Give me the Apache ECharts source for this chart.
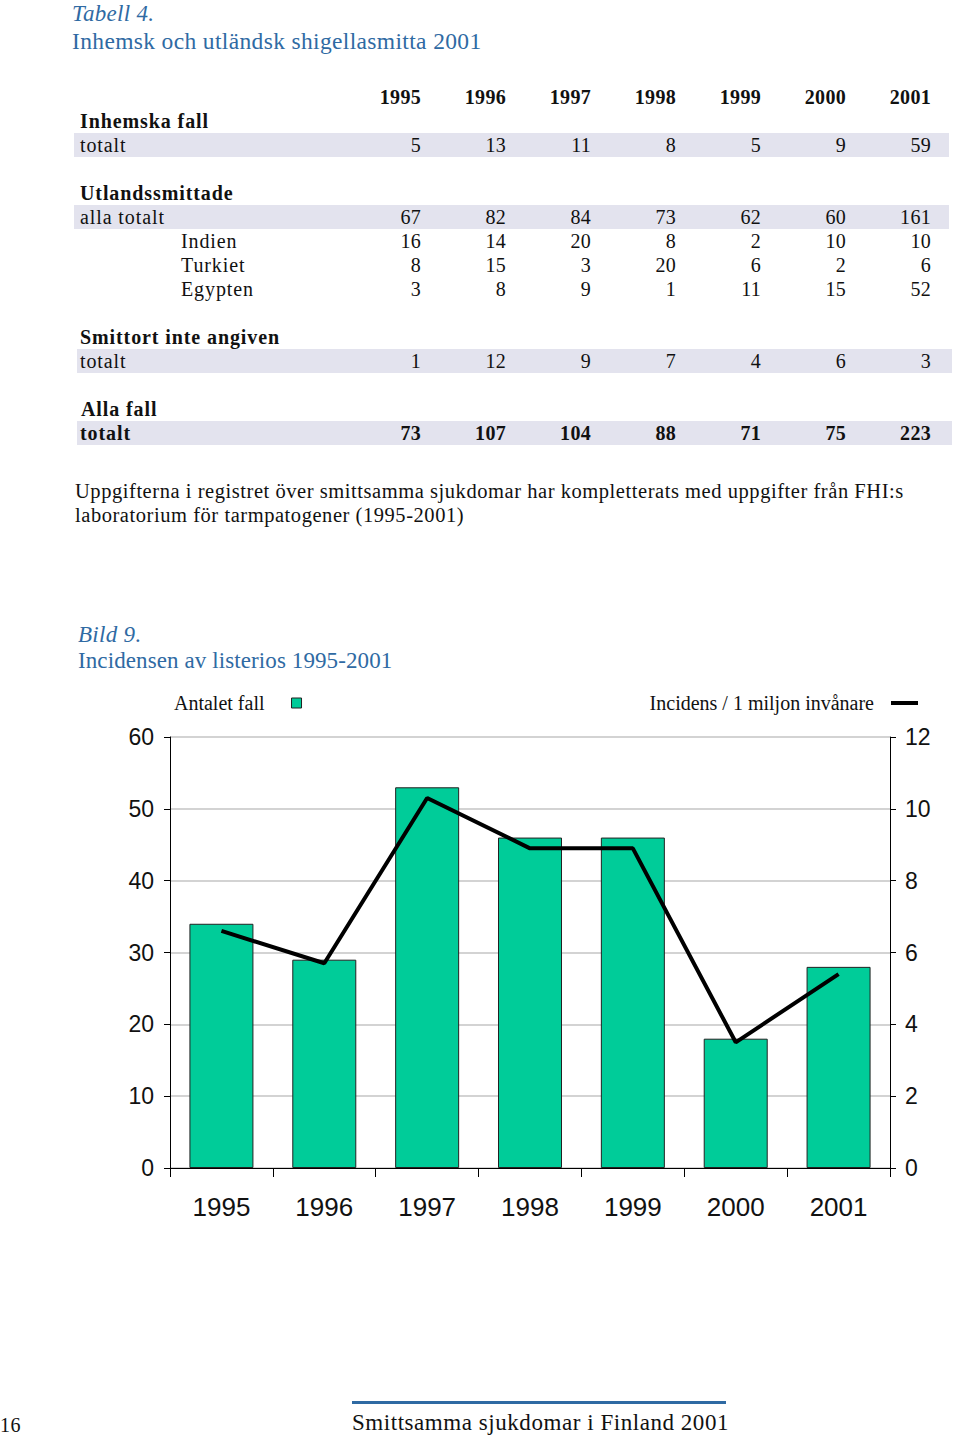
<!DOCTYPE html>
<html>
<head>
<meta charset="utf-8">
<script src="https://cdn.jsdelivr.net/npm/echarts@6/dist/echarts.min.js"></script>
<style>
  html, body { margin:0; padding:0; background:#fff; }
  #page { position:relative; width:960px; height:1440px; overflow:hidden; font-family:"Liberation Serif", "DejaVu Serif", serif; color:#111; }
  .t { position:absolute; white-space:nowrap; line-height:24px; font-size:20px; letter-spacing:0.45px; }
  .blue { color:#2f6aa3; }
  .bg { position:absolute; background:#e3e3ee; height:24px; }
  #chart { position:absolute; left:0; top:0; width:960px; height:1440px; }
</style>
</head>
<body>
<div id="page">
  <div id="chart"></div>
</div>
<script>
// ---------- Table data ----------
const tableYears = ['1995', '1996', '1997', '1998', '1999', '2000', '2001'];
const inhemskaTotalt = [5, 13, 11, 8, 5, 9, 59];
const utlandsAllaTotalt = [67, 82, 84, 73, 62, 60, 161];
const utlandsIndien = [16, 14, 20, 8, 2, 10, 10];
const utlandsTurkiet = [8, 15, 3, 20, 6, 2, 6];
const utlandsEgypten = [3, 8, 9, 1, 11, 15, 52];
const smittortTotalt = [1, 12, 9, 7, 4, 6, 3];
const allaFallTotalt = [73, 107, 104, 88, 71, 75, 223];

// ---------- Chart data ----------
const chartYears = ['1995', '1996', '1997', '1998', '1999', '2000', '2001'];
const antaletFall = [34, 29, 53, 46, 46, 18, 28];
const incidens = [6.6, 5.7, 10.3, 8.9, 8.9, 3.5, 5.4];

// ---------- Build table & texts (HTML) ----------
const page = document.getElementById('page');
function addText(txt, left, top, style) {
  const d = document.createElement('div');
  d.className = 't';
  d.textContent = txt;
  d.style.left = left + 'px';
  d.style.top = top + 'px';
  if (style) Object.assign(d.style, style);
  page.appendChild(d);
  return d;
}
function addBg(left, top, width) {
  const d = document.createElement('div');
  d.className = 'bg';
  d.style.left = left + 'px';
  d.style.top = top + 'px';
  d.style.width = width + 'px';
  page.appendChild(d);
}
const colRight = [421, 506, 591, 676, 761, 846, 931];
function addRow(values, centerY, bold) {
  values.forEach((v, i) => {
    addText(String(v), colRight[i] - 60, centerY - 12, {width: '60px', textAlign: 'right', letterSpacing: '0.3px', fontWeight: bold ? 'bold' : 'normal'});
  });
}

// titles
addText('Tabell 4.', 72, 1, {fontSize: '23px', fontStyle: 'italic', lineHeight: '26px', letterSpacing: '0.3px'}).classList.add('blue');
addText('Inhemsk och utländsk shigellasmitta 2001', 72, 28, {fontSize: '23.5px', lineHeight: '26px', letterSpacing: '0.35px'}).classList.add('blue');

// row backgrounds
addBg(74, 133, 875);
addBg(74, 205, 875);
addBg(77, 349, 875);
addBg(77, 421, 875);

// header
addRow(tableYears, 97, true);
addText('Inhemska fall', 80, 109, {fontWeight: 'bold', letterSpacing: '0.9px'});
addText('totalt', 80, 133, {letterSpacing: '0.9px'});
addRow(inhemskaTotalt, 145, false);
addText('Utlandssmittade', 80, 181, {fontWeight: 'bold', letterSpacing: '0.9px'});
addText('alla totalt', 80, 205, {letterSpacing: '0.9px'});
addRow(utlandsAllaTotalt, 217, false);
addText('Indien', 181, 229, {letterSpacing: '0.9px'});
addRow(utlandsIndien, 241, false);
addText('Turkiet', 181, 253, {letterSpacing: '0.9px'});
addRow(utlandsTurkiet, 265, false);
addText('Egypten', 181, 277, {letterSpacing: '0.9px'});
addRow(utlandsEgypten, 289, false);
addText('Smittort inte angiven', 80, 325, {fontWeight: 'bold', letterSpacing: '0.9px'});
addText('totalt', 80, 349, {letterSpacing: '0.9px'});
addRow(smittortTotalt, 361, false);
addText('Alla fall', 81, 397, {fontWeight: 'bold', letterSpacing: '0.9px'});
addText('totalt', 80, 421, {fontWeight: 'bold', letterSpacing: '0.9px'});
addRow(allaFallTotalt, 433, true);

// note
addText('Uppgifterna i registret över smittsamma sjukdomar har kompletterats med uppgifter från FHI:s', 75, 479, {fontSize: '20.5px', letterSpacing: '0.55px'});
addText('laboratorium för tarmpatogener (1995-2001)', 75, 503, {fontSize: '20.5px', letterSpacing: '0.55px'});

// figure title
addText('Bild 9.', 78, 622, {fontSize: '23px', fontStyle: 'italic', lineHeight: '26px', letterSpacing: '0.3px'}).classList.add('blue');
addText('Incidensen av listerios 1995-2001', 78, 648, {fontSize: '23px', lineHeight: '26px', letterSpacing: '0.1px'}).classList.add('blue');

// footer
const rule = document.createElement('div');
Object.assign(rule.style, {position: 'absolute', left: '352px', top: '1401px', width: '374px', height: '3px', background: '#2f6aa3'});
page.appendChild(rule);
addText('16', 0, 1413, {fontSize: '20px'});
addText('Smittsamma sjukdomar i Finland 2001', 352, 1410, {fontSize: '23px', lineHeight: '26px', letterSpacing: '0.55px'});

// ---------- Chart ----------
const chart = echarts.init(document.getElementById('chart'), null, {renderer: 'svg'});
const axisFont = '"Liberation Sans", Arial, sans-serif';
const option = {
  animation: false,
  backgroundColor: 'transparent',
  grid: {left: 170, right: 70, top: 737, bottom: 272, containLabel: false},
  legend: [
    {
      left: 174, top: 693, padding: 0, itemWidth: 10, itemHeight: 10, align: 'right', itemGap: 0,
      textStyle: {fontFamily: '"Liberation Serif", serif', fontSize: 20, color: '#111', padding: [0, 22, 0, 0]},
      data: [{name: 'Antalet fall', icon: 'rect', itemStyle: {color: '#00cc99', borderColor: '#222', borderWidth: 1}}]
    },
    {
      right: 42, top: 693, padding: 0, itemWidth: 27, itemHeight: 4, align: 'right',
      textStyle: {fontFamily: '"Liberation Serif", serif', fontSize: 20, color: '#111', padding: [0, 12, 0, 0]},
      data: [{name: 'Incidens / 1 miljon invånare', icon: 'rect', itemStyle: {color: '#000'}}]
    }
  ],
  xAxis: {
    type: 'category', data: chartYears, boundaryGap: true,
    axisLine: {show: true, lineStyle: {color: '#000', width: 1}},
    axisTick: {show: true, inside: false, length: 9, lineStyle: {color: '#000'}},
    axisLabel: {fontFamily: axisFont, fontSize: 26, color: '#111', margin: 26}
  },
  yAxis: [
    {
      type: 'value', min: 0, max: 60, interval: 10, position: 'left',
      axisLine: {show: true, lineStyle: {color: '#000', width: 1}},
      axisTick: {show: true, inside: false, length: 6, lineStyle: {color: '#000'}},
      splitLine: {show: true, lineStyle: {color: '#c4c4c4', width: 1.5}},
      axisLabel: {fontFamily: axisFont, fontSize: 23, color: '#111', margin: 16}
    },
    {
      type: 'value', min: 0, max: 12, interval: 2, position: 'right',
      axisLine: {show: true, lineStyle: {color: '#000', width: 1}},
      axisTick: {show: true, inside: false, length: 6, lineStyle: {color: '#000'}},
      splitLine: {show: false},
      axisLabel: {fontFamily: axisFont, fontSize: 23, color: '#111', margin: 15}
    }
  ],
  series: [
    {
      name: 'Antalet fall', type: 'bar', data: antaletFall, barWidth: 64, yAxisIndex: 0,
      itemStyle: {color: '#00cc99', borderColor: '#222', borderWidth: 1}
    },
    {
      name: 'Incidens / 1 miljon invånare', type: 'line', data: incidens, yAxisIndex: 1,
      showSymbol: false, symbol: 'none', lineStyle: {color: '#000', width: 4}, itemStyle: {color: '#000'}
    }
  ]
};
chart.setOption(option);
</script>
</body>
</html>
